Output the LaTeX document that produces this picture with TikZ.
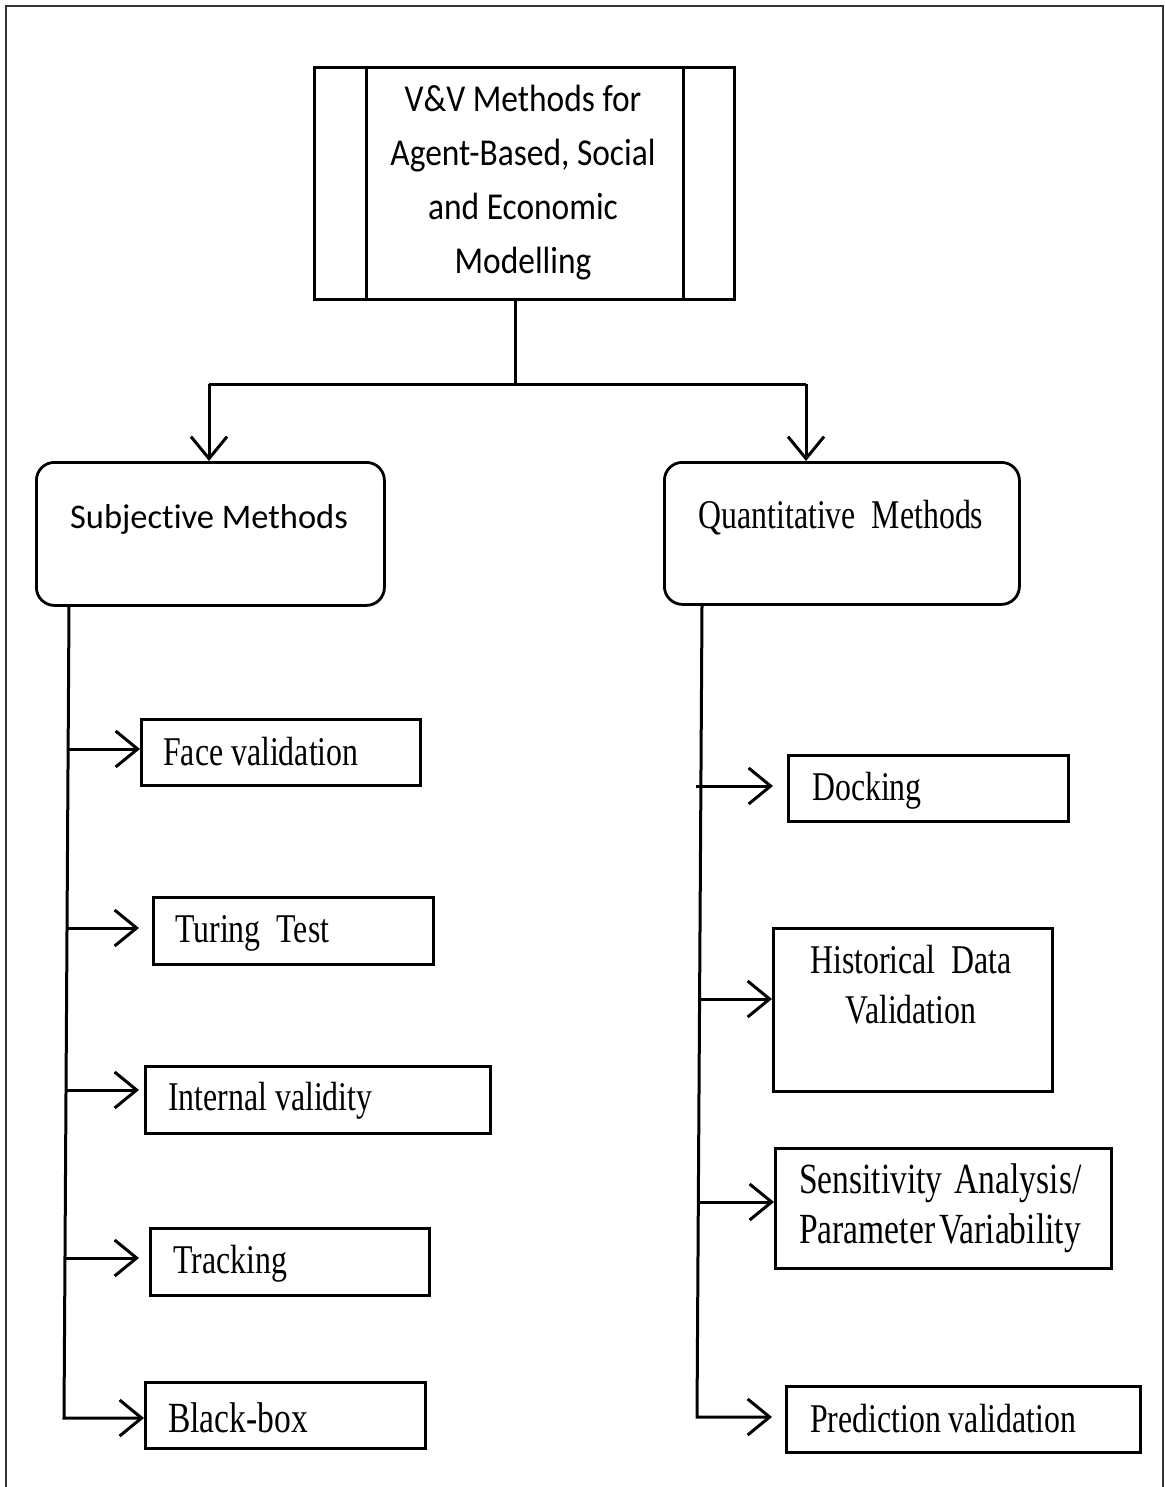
\documentclass[tikz,border=0pt]{standalone}
\usepackage{fontspec}
\usetikzlibrary{arrows.meta}
\newfontfamily\itemfont[FakeStretch=0.78]{Liberation Serif}
\newfontfamily\headfont[FakeStretch=0.88,Ligatures={NoCommon,NoContextual}]{Carlito}
\newfontfamily\subfont[Ligatures={NoCommon,NoContextual}]{Carlito}
\newcommand\wsp{\hspace{16pt}}

\begin{document}
\begin{tikzpicture}[x=1pt,y=-1pt,
  ln/.style={line width=3pt, black},
  arr/.style={ln, -{Straight Barb[length=22pt,width=36pt,line width=3pt]}},
  box/.style={draw, line width=2.8pt, inner sep=0pt, anchor=north west},
  itemtxt/.style={font=\itemfont\fontsize{40.8}{50}\selectfont, inner sep=0pt},
  framestyle/.style={line width=2.6pt, black!80},
]
\useasboundingbox (0,0) rectangle (1164,1487);

% page frame (open at the bottom)
\draw[framestyle] (6,1487) -- (6,6) -- (1163,6) -- (1163,1487);

% ---- root box with side bars ----
\node[box, minimum width=420pt, minimum height=232pt] (root) at (313,66) {};
\draw[ln] ([xshift=53pt]root.north west) -- ([xshift=53pt]root.south west);
\draw[ln] ([xshift=-52pt]root.north east) -- ([xshift=-52pt]root.south east);
\node[font=\headfont\fontsize{38}{54}\selectfont, align=center, inner sep=0pt] (roottxt)
  at (523,183) {V\&V Methods for\\Agent-Based, Social\\and Economic\\Modelling};

% ---- category boxes ----
\node[box, rounded corners=18pt, minimum width=348pt, minimum height=143pt] (subj) at (35,461) {};
\node[font=\subfont\fontsize{34.5}{42}\selectfont, inner sep=0pt, anchor=base] (subjtxt)
  at (209,528) {Subjective Methods};
\node[box, rounded corners=18pt, minimum width=355pt, minimum height=142pt] (quant) at (663,461) {};
\node[itemtxt, anchor=base] (quanttxt) at (841,528) {Quantitative\wsp Methods};

% ---- fork from root to categories ----
\coordinate (fork) at (515,384);
\coordinate (lfork) at (209,384);
\coordinate (rfork) at (806,384);
\draw[ln] (root.south -| fork) -- (fork);
\draw[ln] (lfork) -- (rfork);
\draw[arr] (lfork) -- (lfork |- subj.north);
\draw[arr] (rfork) -- (rfork |- quant.north);

% ---- subjective methods ----
\node[box, minimum width=279pt, minimum height=66pt] (face) at (140,718) {};
\node[itemtxt, anchor=base west] (facetxt) at (163,765) {Face validation};
\node[box, minimum width=280pt, minimum height=67pt] (turing) at (152,896) {};
\node[itemtxt, anchor=base west] (turingtxt) at (175,942) {Turing\wsp Test};
\node[box, minimum width=345pt, minimum height=67pt] (internal) at (144,1065) {};
\node[itemtxt, anchor=base west] (internaltxt) at (168,1110) {Internal validity};
\node[box, minimum width=279pt, minimum height=67pt] (tracking) at (149,1227) {};
\node[itemtxt, anchor=base west] (trackingtxt) at (173,1273) {Tracking};
\node[box, minimum width=280pt, minimum height=66pt] (blackbox) at (144,1381) {};
\node[itemtxt, anchor=base west, font=\itemfont\fontsize{43}{50}\selectfont] (blackboxtxt) at (168,1432) {Black-box};

\coordinate (ltop) at ([xshift=34pt]subj.south west);
\coordinate (lbot) at (64,1418);
\draw[arr] (ltop) -- (lbot) -- (lbot -| blackbox.west);
\coordinate (faceA) at (68,749);   \coordinate (faceB) at (140,749);
\coordinate (turA) at (67,928);    \coordinate (turB) at (139,928);
\coordinate (intA) at (66,1090);   \coordinate (intB) at (139,1090);
\coordinate (traA) at (65,1258);   \coordinate (traB) at (139,1258);
\draw[arr] (faceA) -- (faceB);
\draw[arr] (turA) -- (turB);
\draw[arr] (intA) -- (intB);
\draw[arr] (traA) -- (traB);

% ---- quantitative methods ----
\node[box, minimum width=280pt, minimum height=66pt] (docking) at (787,754) {};
\node[itemtxt, anchor=base west] (dockingtxt) at (812,800) {Docking};
\node[box, minimum width=279pt, minimum height=163pt] (hist) at (772,927) {};
\node[itemtxt, align=center] (histtxt) at (911,985) {Historical\wsp Data\\Validation};
\node[box, minimum width=336pt, minimum height=120pt] (sens) at (774,1147) {};
\node[itemtxt, align=left, anchor=west, font=\itemfont\fontsize{43}{50}\selectfont] (senstxt)
  at (799,1208) {Sensitivity\hspace{12pt}Analysis/\\Parameter\hspace{4pt}Variability};
\node[box, minimum width=354pt, minimum height=66pt] (pred) at (785,1385) {};
\node[itemtxt, anchor=base west] (predtxt) at (810,1432) {Prediction validation};

\coordinate (rtop) at ([xshift=39pt]quant.south west);
\coordinate (rbot) at (697,1417);
\draw[arr] (rtop) -- (rbot) -- (772,1417);
\coordinate (dockA) at (696,786);  \coordinate (dockB) at (773,786);
\coordinate (histA) at (700,999);  \coordinate (histB) at (772,999);
\coordinate (sensA) at (699,1202); \coordinate (sensB) at (774,1202);
\draw[arr] (dockA) -- (dockB);
\draw[arr] (histA) -- (histB);
\draw[arr] (sensA) -- (sensB);
\end{tikzpicture}
\end{document}
